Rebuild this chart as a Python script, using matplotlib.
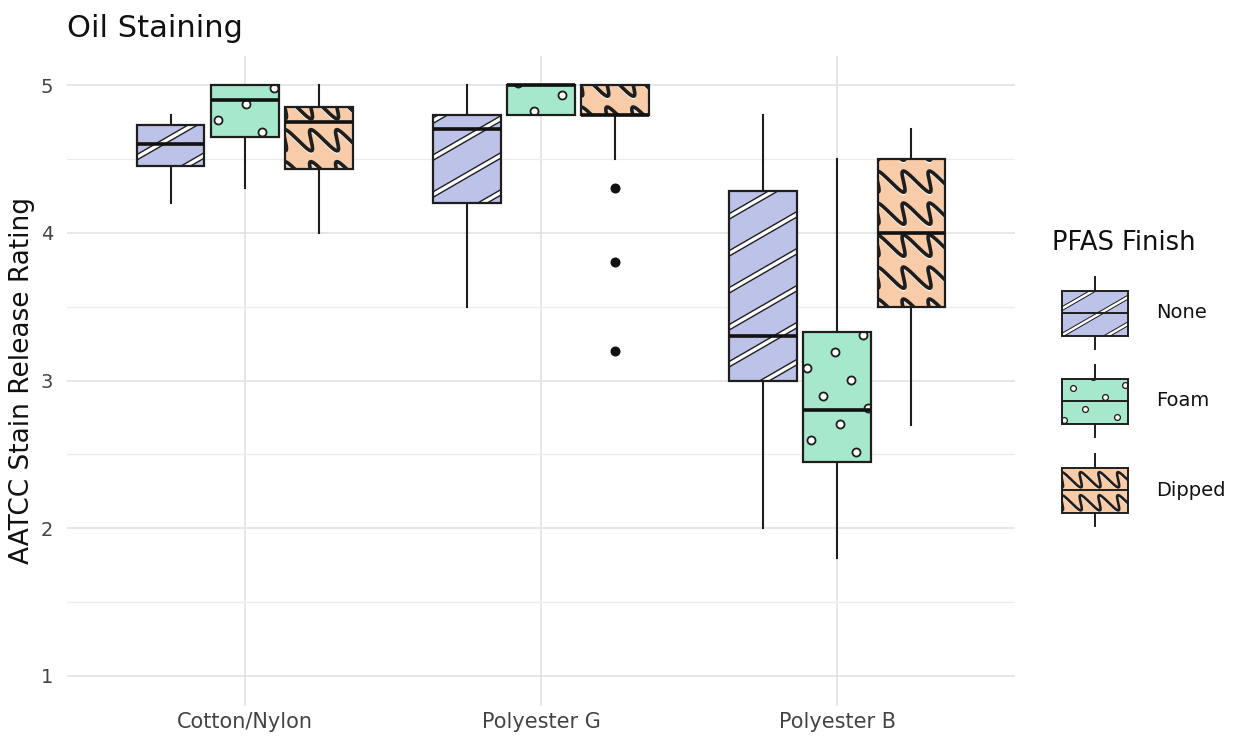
import numpy as np
import matplotlib
matplotlib.use('Agg')
import matplotlib.pyplot as plt
from matplotlib.patches import PathPatch, Rectangle

# data
groups = ['Cotton/Nylon', 'Polyester G', 'Polyester B']
finishes = ['None', 'Foam', 'Dipped']

none_whislo = [4.2, 3.5, 2.0]
none_q1 = [4.45, 4.2, 3.0]
none_med = [4.6, 4.7, 3.3]
none_q3 = [4.73, 4.8, 4.28]
none_whishi = [4.8, 5.0, 4.8]

foam_whislo = [4.3, 4.8, 1.8]
foam_q1 = [4.65, 4.8, 2.45]
foam_med = [4.9, 5.0, 2.8]
foam_q3 = [5.0, 5.0, 3.33]
foam_whishi = [5.0, 5.0, 4.5]

dipped_whislo = [4.0, 4.5, 2.7]
dipped_q1 = [4.43, 4.8, 3.5]
dipped_med = [4.75, 4.8, 4.0]
dipped_q3 = [4.85, 5.0, 4.5]
dipped_whishi = [5.0, 5.0, 4.7]

dipped_outliers = [[], [4.3, 3.8, 3.2], []]

stats_cols = {
    'None': (none_whislo, none_q1, none_med, none_q3, none_whishi, [[], [], []]),
    'Foam': (foam_whislo, foam_q1, foam_med, foam_q3, foam_whishi, [[], [], []]),
    'Dipped': (dipped_whislo, dipped_q1, dipped_med, dipped_q3, dipped_whishi, dipped_outliers),
}

colors = {'None': '#BDC2E8', 'Foam': '#A5E8CC', 'Dipped': '#F8CCA9'}
EDGE = '#1E1E1E'

ANG = np.deg2rad(30)
U = np.array([np.cos(ANG), np.sin(ANG)])
N = np.array([-np.sin(ANG), np.cos(ANG)])


def box_pixels(patch):
    ext = patch.get_path().get_extents(patch.get_transform())
    return ext.x0, ext.x1, ext.y0, ext.y1


def to_data(ax, pts):
    return ax.transData.inverted().transform(pts)


def draw_stripes(ax, patch, scale=1.0):
    x0, x1, y0, y1 = box_pixels(patch)
    c = np.array([x0, y0])
    R = np.hypot(x1 - x0, y1 - y0) + 20
    sp = 32 * scale
    for d in np.arange(-R, R, sp) + 11 * scale:
        p = np.array([c + d * N - R * U, c + d * N + 2 * R * U])
        q = to_data(ax, p)
        for col, lw in ((EDGE, 4.4 * scale), ('white', 2.4 * scale)):
            ln, = ax.plot(q[:, 0], q[:, 1], color=col, lw=lw,
                          solid_capstyle='butt', zorder=2.5)
            ln.set_clip_path(patch)


def draw_dots(ax, patch, scale=1.0):
    x0, x1, y0, y1 = box_pixels(patch)
    c = np.array([x0, y0])
    R = np.hypot(x1 - x0, y1 - y0) + 40
    sp = 32.5 * scale
    pts = []
    for i in np.arange(-R, R, sp):
        for j in np.arange(-R, R, sp):
            p = c + (i + 9 * scale) * U + (j + 6 * scale) * N
            if x0 - 6 <= p[0] <= x1 + 6 and y0 - 6 <= p[1] <= y1 + 6:
                pts.append(p)
    if not pts:
        return
    q = to_data(ax, np.array(pts))
    ln, = ax.plot(q[:, 0], q[:, 1], ls='none', marker='o',
                  markersize=5.8 * scale, markerfacecolor='white',
                  markeredgecolor=EDGE, markeredgewidth=1.3 * scale, zorder=2.5)
    ln.set_clip_path(patch)


def draw_waves(ax, patch, scale=1.0):
    # sheared sine rows -> "NNN" look
    x0, x1, y0, y1 = box_pixels(patch)
    sp = 32 * scale
    lam = 26 * scale
    amp = 12.5 * scale
    v = np.array([-np.sin(np.deg2rad(32)), np.cos(np.deg2rad(32))])
    t = np.linspace(x0 - 40, x1 + 40, 800)
    for yb in np.arange(y0 - 40, y1 + 40, sp) + 5 * scale:
        s = amp * np.sin(2 * np.pi * (t - x0) / lam)
        p = np.column_stack([t + s * v[0], yb + s * v[1]])
        q = to_data(ax, p)
        ln, = ax.plot(q[:, 0], q[:, 1], color=EDGE, lw=2.6 * scale, zorder=2.5)
        ln.set_clip_path(patch)
        q2 = to_data(ax, p - np.array([0, 2.4 * scale]))
        ln2, = ax.plot(q2[:, 0], q2[:, 1], color='white', lw=1.0 * scale, zorder=2.4)
        ln2.set_clip_path(patch)


patterns = {'None': draw_stripes, 'Foam': draw_dots, 'Dipped': draw_waves}

W, H = 1237, 740
fig = plt.figure(figsize=(W / 100, H / 100), dpi=100)
ax = fig.add_axes([67 / W, 1 - 705.5 / H, (1015 - 67) / W, (705.5 - 55.5) / H])
ax.set_xlim(0.4, 3.6)
ax.set_ylim(0.8, 5.2)

offsets = [-0.25, 0.0, 0.25]
box_w = 0.228

for k, f in enumerate(finishes):
    lo, q1, med, q3, hi, fl = stats_cols[f]
    stats = [dict(whislo=lo[i], q1=q1[i], med=med[i], q3=q3[i], whishi=hi[i],
                  fliers=fl[i]) for i in range(len(groups))]
    pos = np.arange(1, len(groups) + 1) + offsets[k]
    bp = ax.bxp(stats, positions=pos, widths=box_w, patch_artist=True,
                showcaps=False, manage_ticks=False,
                boxprops=dict(facecolor=colors[f], edgecolor='none', zorder=2),
                whiskerprops=dict(color=EDGE, lw=1.5, zorder=1.8),
                medianprops=dict(color='#111111', lw=2.6, zorder=4),
                flierprops=dict(marker='o', markerfacecolor='#111111',
                                markeredgecolor='#111111', markersize=6.2))
    for patch in bp['boxes']:
        patterns[f](ax, patch)
        ax.add_patch(PathPatch(patch.get_path(), transform=patch.get_transform(),
                               fill=False, edgecolor=EDGE, lw=1.6, zorder=3))

ax.set_xticks(np.arange(1, len(groups) + 1))
ax.set_xticklabels(groups)
ax.set_yticks([1, 2, 3, 4, 5])
ax.set_yticks([1.5, 2.5, 3.5, 4.5], minor=True)
ax.grid(which='major', color='#E3E3E3', lw=1.2)
ax.grid(which='minor', axis='y', color='#ECECEC', lw=0.9)
ax.set_axisbelow(True)
ax.tick_params(which='both', length=0)
ax.tick_params(axis='y', labelsize=14, labelcolor='#444444', pad=10)
ax.tick_params(axis='x', labelsize=15, labelcolor='#444444', pad=5)
for s in ax.spines.values():
    s.set_visible(False)

fig.text(67 / W, 1 - 37 / H, 'Oil Staining', fontsize=22, color='#111111',
         ha='left', va='baseline')
fig.text(22 / W, 1 - 380 / H, 'AATCC Stain Release Rating', fontsize=19,
         color='#111111', rotation=90, ha='center', va='center')

# legend drawn by hand in pixel space
lax = fig.add_axes([0, 0, 1, 1])
lax.set_xlim(0, W)
lax.set_ylim(H, 0)
lax.axis('off')
lax.patch.set_alpha(0)
fig.text(1052 / W, 1 - 243 / H, 'PFAS Finish', fontsize=18.5, color='#111111',
         ha='left', va='center')
key_x0, key_x1 = 1062, 1128
key_centers = [313, 401, 490]
for f, cy in zip(finishes, key_centers):
    r = Rectangle((key_x0, cy - 22.5), key_x1 - key_x0, 45, facecolor=colors[f],
                  edgecolor='none', zorder=2)
    lax.add_patch(r)
    patterns[f](lax, r, scale=0.72)
    lax.add_patch(Rectangle((key_x0, cy - 22.5), key_x1 - key_x0, 45, fill=False,
                            edgecolor=EDGE, lw=1.4, zorder=3))
    xm = (key_x0 + key_x1) / 2
    lax.plot([xm, xm], [cy - 36, cy - 22.5], color=EDGE, lw=1.4, zorder=2)
    lax.plot([xm, xm], [cy + 22.5, cy + 36], color=EDGE, lw=1.4, zorder=2)
    lax.plot([key_x0, key_x1], [cy, cy], color=EDGE, lw=1.4, zorder=4)
    lax.text(1156, cy, f, fontsize=14, color='#111111', ha='left', va='center')

fig.savefig('out.png', dpi=100)
